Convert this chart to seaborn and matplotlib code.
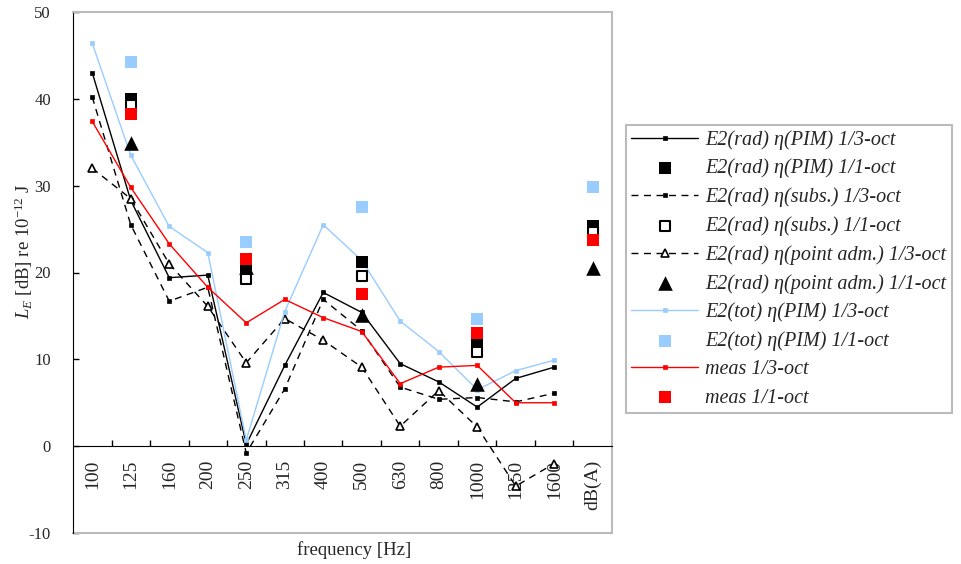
import numpy as np
import pandas as pd
import matplotlib.pyplot as plt
import seaborn as sns
plt.switch_backend('Agg')

# categories on the x axis
freq_labels = ['100', '125', '160', '200', '250', '315', '400', '500',
               '630', '800', '1000', '1250', '1600', 'dB(A)']
third_oct = list(range(13))           # 100 .. 1600 Hz
octave_pos = [1, 4, 7, 10, 13]        # 125, 250, 500, 1000, dB(A)

# 1/3-octave series
pim_3 = [43.0, 28.3, 19.4, 19.7, 0.2, 9.3, 17.7, 15.4, 9.5, 7.4, 4.5, 7.8, 9.1]
subs_3 = [40.2, 25.5, 16.7, 18.3, -0.8, 6.6, 16.9, 13.3, 6.8, 5.4, 5.6, 5.1, 6.1]
point_3 = [32.0, 28.5, 21.0, 16.1, 9.6, 14.7, 12.2, 9.1, 2.3, 6.4, 2.2, -4.6, -2.0]
tot_3 = [46.4, 33.5, 25.3, 22.3, 0.7, 15.5, 25.5, 21.4, 14.4, 10.9, 6.5, 8.7, 9.9]
meas_3 = [37.4, 29.8, 23.3, 18.3, 14.2, 16.9, 14.8, 13.2, 7.2, 9.1, 9.3, 5.0, 5.0]

# 1/1-octave series (125, 250, 500, 1000, dB(A))
pim_1 = [40.0, 20.5, 21.2, 11.8, 25.3]
subs_1 = [39.3, 19.3, 19.6, 10.9, 24.7]
point_1 = [34.9, 20.6, 15.1, 7.2, 20.5]
tot_1 = [44.2, 23.5, 27.6, 14.7, 29.8]
meas_1 = [38.2, 21.6, 17.5, 13.0, 23.7]

LBLUE = '#99ccff'
RED = '#ff0000'
DASH = (0, (5, 4))

sns.set_style('white')
plt.rcParams['font.family'] = ['Liberation Serif', 'DejaVu Serif']
plt.rcParams['mathtext.fontset'] = 'custom'
plt.rcParams['mathtext.rm'] = 'Liberation Serif'
plt.rcParams['mathtext.it'] = 'Liberation Serif:italic'
plt.rcParams['axes.unicode_minus'] = False

fig = plt.figure(figsize=(9.62, 5.64), dpi=100)
ax = fig.add_axes([73 / 962, 1 - 533 / 564, 539 / 962, 521 / 564])

# x axis sits at y = 0 (set first: moving the spine resets the ticks)
ax.spines['bottom'].set_position(('data', 0))


def third(vals, color, label, ls='-', marker='s', ms=3.5, mfc=None):
    sns.lineplot(x=third_oct, y=vals, ax=ax, color=color, linewidth=1,
                 linestyle=ls, marker=marker, markersize=ms,
                 markerfacecolor=mfc if mfc else color,
                 markeredgecolor=color, markeredgewidth=1.2 if mfc else 0.5,
                 label=label, legend=False)


def octave(vals, color, label, marker='s', s=70, fc=None):
    sns.scatterplot(x=octave_pos, y=vals, ax=ax, marker=marker, s=s,
                    color=fc if fc else color, edgecolor=color,
                    linewidth=1.5 if fc else 0, label=label, legend=False, zorder=3)


third(pim_3, 'black', 'E2(rad) η(PIM) 1/3-oct')
octave(pim_1, 'black', 'E2(rad) η(PIM) 1/1-oct')
third(subs_3, 'black', 'E2(rad) η(subs.) 1/3-oct', ls=DASH)
octave(subs_1, 'black', 'E2(rad) η(subs.) 1/1-oct', s=55, fc='white')
third(point_3, 'black', 'E2(rad) η(point adm.) 1/3-oct', ls=DASH,
      marker='^', ms=6, mfc='white')
octave(point_1, 'black', 'E2(rad) η(point adm.) 1/1-oct', marker='^', s=110)
third(tot_3, LBLUE, 'E2(tot) η(PIM) 1/3-oct')
octave(tot_1, LBLUE, 'E2(tot) η(PIM) 1/1-oct')
third(meas_3, RED, 'meas 1/3-oct')
octave(meas_1, RED, 'meas 1/1-oct')

ax.set_xlim(-0.5, 13.5)
ax.set_ylim(-10, 50)
ax.set_yticks(range(-10, 51, 10))
ax.set_xticks(range(14))
ax.set_xticklabels(freq_labels, rotation=90, va='top', ha='center', fontsize=14)
ax.tick_params(axis='x', which='major', length=0, pad=10)
ax.set_xticks(np.arange(0.5, 13.5, 1), minor=True)
ax.tick_params(axis='x', which='minor', direction='in', length=4, width=1,
               color='black', bottom=True)
ax.tick_params(axis='y', direction='in', length=4, width=1, color='black',
               labelsize=12, pad=16, left=True)

ax.spines['bottom'].set_color('black')
ax.spines['left'].set_color('black')
for s in ['top', 'right']:
    ax.spines[s].set_color('#bbbbbb')
    ax.spines[s].set_linewidth(1.5)
ax.plot([0, 1], [0, 0], transform=ax.transAxes, color='#bbbbbb', lw=1.5, clip_on=False)

ax.set_xlabel('frequency [Hz]', fontsize=13.5)
ax.xaxis.set_label_coords(0.521, -0.015)
ax.set_ylabel(r'$L_E$ [dB] re 10$^{-12}$ J', fontsize=13.5)
ax.yaxis.set_label_coords(-0.071, 0.54)

handles, labels = ax.get_legend_handles_labels()
leg = fig.legend(handles, labels, loc='upper left',
                 bbox_to_anchor=(626 / 962, 1 - 124.5 / 564),
                 bbox_transform=fig.transFigure, borderaxespad=0,
                 prop={'family': 'Liberation Serif', 'style': 'italic', 'size': 14.5},
                 fancybox=False, edgecolor='#bbbbbb', framealpha=1, numpoints=1,
                 handlelength=3.3, handletextpad=0.35, labelspacing=0.45,
                 borderpad=0.27)
leg.get_frame().set_linewidth(1.5)

fig.savefig('out.png', dpi=100)
